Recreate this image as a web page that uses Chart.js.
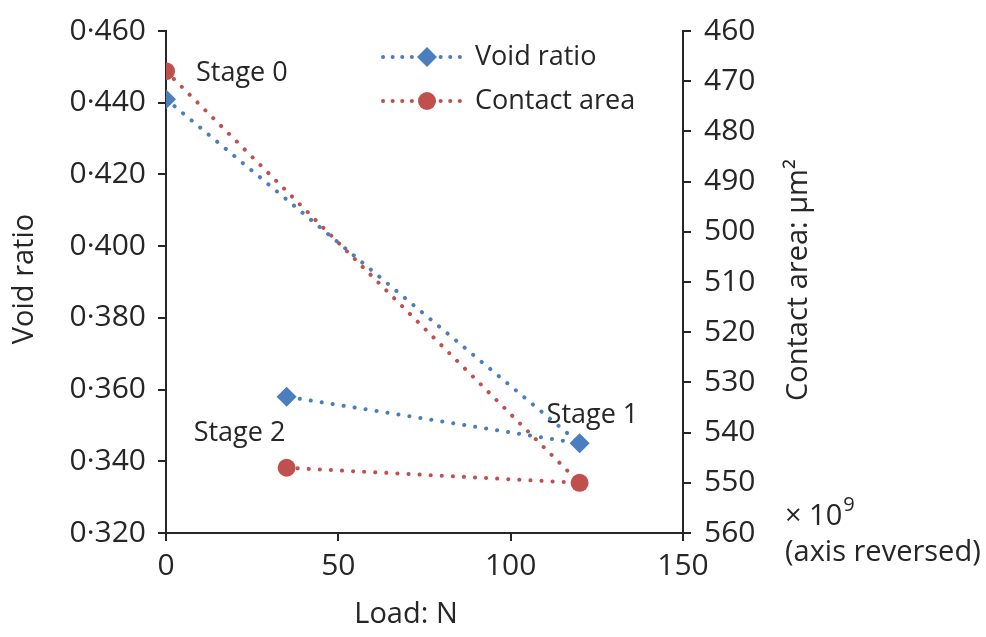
<!DOCTYPE html>
<html>
<head>
<meta charset="utf-8">
<script src="https://cdn.jsdelivr.net/npm/chart.js@4.4.1/dist/chart.umd.min.js"></script>
<style>
  html, body { margin: 0; padding: 0; background: #fff; }
  #wrap { width: 986px; height: 637px; position: relative; }
</style>
</head>
<body>
<div id="wrap"><canvas id="voidChart"></canvas></div>
<script>
// Data (points in stage order 0, 1, 2)
const loads = [0, 120, 35];
const voidRatio = [0.441, 0.345, 0.358];
const contactArea = [468, 550, 547];
const stageNames = ['Stage 0', 'Stage 1', 'Stage 2'];

const BLUE = '#4a7ebf';
const RED = '#c0504d';
const INK = '#262626';
const FONT = '"Open Sans", "DejaVu Sans", sans-serif';
const FS = 27;       // labels and legend
const FS_TICK = 30;  // tick labels
const FS_TITLE = 29; // axis titles

// Stage label placement relative to a dataset point (ref = dataset index)
const stageOffsets = [
  { dx: 30, dy: 2, ref: 1 },
  { dx: -33, dy: -28, ref: 0 },
  { dx: -93, dy: 37, ref: 0 }
];

const DASH = [0.1, 11];
const LW = 4;

const annotate = {
  id: 'annotate',
  afterDatasetsDraw(chart) {
    const ctx = chart.ctx;
    ctx.save();
    ctx.fillStyle = INK;
    ctx.font = FS + 'px ' + FONT;
    ctx.textBaseline = 'middle';

    // stage labels
    stageNames.forEach((name, i) => {
      const o = stageOffsets[i];
      const pt = chart.getDatasetMeta(o.ref).data[i];
      ctx.textAlign = 'left';
      ctx.fillText(name, pt.x + o.dx, pt.y + o.dy);
    });

    // legend with dotted line and marker
    const rows = [
      { ds: chart.data.datasets[0], y: 57 },
      { ds: chart.data.datasets[1], y: 101 }
    ];
    rows.forEach(r => {
      ctx.save();
      ctx.strokeStyle = r.ds.borderColor;
      ctx.lineWidth = LW;
      ctx.lineCap = 'round';
      ctx.setLineDash([0.1, 9.5]);
      ctx.beginPath();
      ctx.moveTo(383, r.y);
      ctx.lineTo(460, r.y);
      ctx.stroke();
      ctx.restore();
      ctx.fillStyle = r.ds.pointBackgroundColor;
      Chart.helpers.drawPoint(ctx, {
        pointStyle: r.ds.pointStyle, radius: r.ds.pointRadius, borderWidth: 0
      }, 427, r.y);
      ctx.fillStyle = INK;
      ctx.textAlign = 'left';
      ctx.fillText(r.ds.label, 475, r.y);
    });

    // axis titles and the note on the right axis
    ctx.font = FS_TITLE + 'px ' + FONT;
    ctx.textAlign = 'left';
    ctx.fillText('× 10', 785, 517);
    const w10 = ctx.measureText('× 10').width;
    ctx.fillText('(axis reversed)', 785, 553);
    ctx.font = '20px ' + FONT;
    ctx.fillText('9', 785 + w10 + 1, 505);

    ctx.font = FS_TITLE + 'px ' + FONT;
    ctx.textAlign = 'center';
    ctx.fillText('Load: N', 406, 615);
    ctx.save();
    ctx.translate(25, 279);
    ctx.rotate(-Math.PI / 2);
    ctx.fillText('Void ratio', 0, 0);
    ctx.restore();
    ctx.save();
    ctx.translate(799, 280);
    ctx.rotate(-Math.PI / 2);
    ctx.fillText('Contact area: µm²', 0, 0);
    ctx.restore();
    ctx.restore();
  }
};

const tickFont = { family: FONT, size: FS_TICK };
const axisGrid = { display: true, drawOnChartArea: false, drawTicks: true, tickLength: 8, color: INK, lineWidth: 2 };
const axisBorder = { display: true, color: INK, width: 2 };

new Chart(document.getElementById('voidChart'), {
  type: 'scatter',
  data: {
    datasets: [
      {
        label: 'Void ratio',
        data: loads.map((x, i) => ({ x: x, y: voidRatio[i] })),
        yAxisID: 'y',
        showLine: true,
        borderColor: BLUE,
        borderWidth: LW,
        borderDash: DASH,
        borderCapStyle: 'round',
        pointStyle: 'rectRot',
        pointRadius: 10,
        pointBorderWidth: 0,
        pointBackgroundColor: BLUE
      },
      {
        label: 'Contact area',
        data: loads.map((x, i) => ({ x: x, y: contactArea[i] })),
        yAxisID: 'y2',
        showLine: true,
        borderColor: RED,
        borderWidth: LW,
        borderDash: DASH,
        borderCapStyle: 'round',
        pointStyle: 'circle',
        pointRadius: 9,
        pointBorderWidth: 0,
        pointBackgroundColor: RED
      }
    ]
  },
  options: {
    responsive: true,
    maintainAspectRatio: false,
    animation: false,
    layout: { padding: { top: 25, left: 0, right: 0, bottom: 0 } },
    plugins: {
      legend: { display: false },
      tooltip: { enabled: false }
    },
    scales: {
      x: {
        type: 'linear',
        min: 0,
        max: 150,
        ticks: { stepSize: 50, font: tickFont, color: INK, padding: 7 },
        grid: axisGrid,
        border: axisBorder,
        afterFit: s => { s.height = 104; }
      },
      y: {
        position: 'left',
        min: 0.32,
        max: 0.46,
        ticks: {
          stepSize: 0.02,
          font: tickFont,
          color: INK,
          padding: 12,
          callback: v => v.toFixed(3).replace('.', '·')
        },
        grid: axisGrid,
        border: axisBorder,
        afterFit: s => { s.width = 166; }
      },
      y2: {
        position: 'right',
        reverse: true,
        min: 460,
        max: 560,
        ticks: { stepSize: 10, font: tickFont, color: INK, padding: 13 },
        grid: axisGrid,
        border: axisBorder,
        afterFit: s => { s.width = 303; }
      }
    }
  },
  plugins: [annotate]
});
</script>
</body>
</html>
